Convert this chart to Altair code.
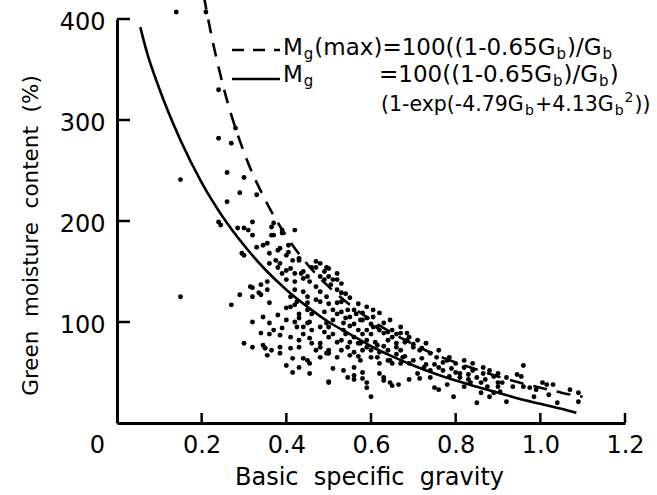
import altair as alt
import pandas as pd

# ---- values: (basic specific gravity, green moisture content %) ----
pts_sparse = [(0.14, 407), (0.21, 407), (0.15, 241), (0.15, 125), (0.24, 330), (0.28, 292),
              (0.24, 282), (0.27, 277), (0.26, 248), (0.30, 243), (0.29, 228), (0.26, 219),
              (0.33, 226), (0.24, 199), (0.32, 199), (0.30, 193), (0.31, 191), (0.37, 198),
              (0.39, 191), (0.42, 191), (0.245, 196), (0.285, 193), (0.365, 194), (0.32, 186),
              (0.365, 186), (0.39, 188)]
pts_band_150 = [(0.33, 174), (0.355, 178), (0.37, 186), (0.345, 176), (0.36, 168), (0.295, 168),
                (0.385, 173), (0.405, 176), (0.43, 163), (0.385, 158), (0.40, 151), (0.42, 148),
                (0.36, 158), (0.46, 154), (0.48, 158), (0.50, 153), (0.52, 148), (0.38, 171),
                (0.405, 169), (0.40, 166), (0.30, 166), (0.375, 161), (0.415, 161), (0.43, 161),
                (0.38, 154), (0.41, 153), (0.435, 148), (0.47, 154), (0.495, 154), (0.39, 148),
                (0.40, 142), (0.42, 140), (0.44, 143), (0.455, 140), (0.49, 142), (0.505, 137)]
pts_band_120 = [(0.315, 135), (0.34, 137), (0.355, 140), (0.29, 127), (0.27, 117), (0.335, 129),
                (0.32, 134), (0.355, 132), (0.32, 125), (0.34, 127), (0.36, 119), (0.41, 115),
                (0.42, 117), (0.45, 119), (0.47, 122), (0.48, 130), (0.495, 125), (0.52, 132),
                (0.53, 120), (0.55, 124), (0.32, 100), (0.345, 105), (0.38, 107), (0.40, 114),
                (0.425, 120), (0.45, 125), (0.51, 142), (0.53, 129), (0.52, 119), (0.545, 112),
                (0.47, 135), (0.48, 120), (0.49, 110), (0.50, 118), (0.51, 112), (0.52, 108),
                (0.53, 110), (0.54, 104), (0.46, 108), (0.43, 108), (0.41, 125), (0.42, 132),
                (0.44, 130), (0.45, 112)]
pts_band_95 = [(0.34, 89), (0.37, 92), (0.39, 94), (0.425, 95), (0.45, 99), (0.36, 99), (0.40, 102),
               (0.44, 95), (0.455, 100), (0.48, 95), (0.495, 99), (0.51, 102), (0.535, 99),
               (0.55, 105), (0.575, 102), (0.59, 92), (0.615, 95), (0.63, 89), (0.65, 85),
               (0.565, 108), (0.58, 102), (0.605, 95), (0.59, 115), (0.605, 112), (0.62, 109),
               (0.645, 102), (0.67, 95), (0.685, 89), (0.58, 109), (0.605, 105), (0.63, 99),
               (0.65, 92), (0.67, 89), (0.69, 85), (0.535, 92), (0.56, 85), (0.55, 96), (0.56, 98),
               (0.57, 92), (0.58, 88), (0.60, 88), (0.62, 92), (0.64, 90), (0.66, 88), (0.46, 92),
               (0.44, 88), (0.42, 100), (0.49, 90), (0.50, 95), (0.51, 88), (0.54, 88), (0.59, 104),
               (0.60, 98), (0.43, 104)]
pts_band_70 = [(0.30, 79), (0.32, 75), (0.345, 77), (0.365, 72), (0.385, 75), (0.41, 74), (0.43, 75),
               (0.46, 79), (0.48, 75), (0.415, 64), (0.45, 62), (0.48, 65), (0.50, 69), (0.36, 88),
               (0.385, 87), (0.41, 85), (0.43, 82), (0.455, 84), (0.48, 79), (0.50, 85), (0.53, 82),
               (0.545, 75), (0.57, 79), (0.59, 75), (0.615, 77), (0.64, 72), (0.66, 75), (0.35, 74),
               (0.355, 67), (0.385, 69), (0.44, 64), (0.47, 72), (0.495, 69), (0.52, 65), (0.55, 67),
               (0.575, 62), (0.60, 65), (0.62, 59), (0.645, 62), (0.67, 59), (0.66, 79), (0.685, 82),
               (0.70, 75), (0.715, 72), (0.74, 69), (0.755, 65), (0.78, 62), (0.80, 59), (0.50, 72),
               (0.575, 79), (0.60, 72), (0.615, 65), (0.64, 62), (0.65, 59), (0.675, 65), (0.69, 59),
               (0.71, 82), (0.73, 79), (0.76, 72), (0.785, 65), (0.82, 62), (0.52, 80), (0.53, 72),
               (0.55, 80), (0.56, 70), (0.57, 66), (0.58, 72), (0.59, 82), (0.61, 80), (0.62, 70),
               (0.63, 76), (0.64, 82), (0.66, 68), (0.67, 72), (0.68, 66), (0.70, 62), (0.72, 64),
               (0.68, 80), (0.70, 78), (0.72, 74)]
pts_band_40 = [(0.40, 57), (0.43, 55), (0.455, 59), (0.51, 54), (0.535, 52), (0.56, 55), (0.58, 50),
               (0.415, 50), (0.455, 49), (0.50, 41), (0.545, 45), (0.56, 43), (0.59, 40), (0.63, 45),
               (0.645, 40), (0.665, 38), (0.60, 26), (0.50, 40), (0.56, 47), (0.58, 44), (0.59, 35),
               (0.62, 49), (0.63, 42), (0.65, 37), (0.69, 43), (0.71, 49), (0.715, 44), (0.74, 45),
               (0.75, 35), (0.76, 33), (0.78, 38), (0.795, 26), (0.82, 36), (0.83, 43), (0.85, 20),
               (0.86, 30), (0.88, 26), (0.725, 55), (0.74, 52), (0.77, 52), (0.785, 46), (0.81, 49),
               (0.835, 40), (0.86, 40), (0.875, 36), (0.90, 40), (0.73, 58), (0.75, 58), (0.76, 55),
               (0.77, 60), (0.79, 54), (0.80, 50), (0.81, 45), (0.83, 48), (0.85, 45), (0.87, 43)]
pts_upper_edge = [(0.82, 55), (0.84, 52), (0.865, 49), (0.89, 46), (0.84, 59), (0.865, 55),
                  (0.48, 145), (0.50, 145), (0.53, 138), (0.54, 128), (0.56, 112), (0.57, 118),
                  (0.44, 150), (0.45, 145), (0.47, 160), (0.49, 150), (0.52, 142)]
pts_right_end = [(0.96, 57), (0.88, 52), (0.90, 49), (0.92, 45), (0.945, 48), (0.955, 46),
                 (0.91, 40), (0.90, 36), (0.935, 36), (0.96, 36), (0.975, 35), (0.99, 33),
                 (1.005, 40), (1.015, 38), (1.03, 38), (1.02, 28), (0.985, 26), (0.92, 21),
                 (1.04, 20), (1.07, 33), (1.09, 30), (1.09, 21), (0.89, 30), (0.905, 31)]

# fitted curves
solid_gb = [0.055, 0.07, 0.1, 0.15, 0.2, 0.25, 0.3, 0.35, 0.4, 0.45, 0.5, 0.55, 0.6, 0.65,
            0.7, 0.75, 0.8, 0.85, 0.9, 0.95, 1.0, 1.05, 1.085]
solid_mc = [392, 368, 331, 280, 238, 204, 176, 152, 132, 115, 100, 88, 76, 66,
            57, 49, 42, 36, 30, 24, 19, 14, 10]
dash_gb = [0.205, 0.22, 0.25, 0.3, 0.35, 0.4, 0.45, 0.5, 0.55, 0.6, 0.65, 0.7, 0.75, 0.8,
           0.85, 0.9, 0.95, 1.0, 1.05, 1.1]
dash_mc = [423, 390, 335, 268, 221, 185, 157, 135, 117, 102, 89, 78, 68, 60,
           53, 46, 40, 35, 30, 26]

x_ticks = [0, 0.2, 0.4, 0.6, 0.8, 1.0, 1.2]
y_ticks = [100, 200, 300, 400]

x_title = "Basic\u00a0 specific\u00a0 gravity"
y_title = "Green\u00a0 moisture\u00a0 content\u00a0 (%)"

legend_line1 = [("M", "n"), ("g", "sub"), ("(max)=100((1-0.65G", "n"), ("b", "sub"), (")/G", "n"), ("b", "sub")]
legend_line2a = [("M", "n"), ("g", "sub")]
legend_line2b = [("=100((1-0.65G", "n"), ("b", "sub"), (")/G", "n"), ("b", "sub"), (")", "n")]
legend_line3 = [("(1-exp(-4.79G", "n"), ("b", "sub"), ("+4.13G", "n"), ("b", "sub"), ("2", "sup"), ("))", "n")]

# ---------------------------------------------------------------------------
FONT = "DejaVu Sans"
W, H = 508, 404

# DejaVu Sans advance widths (em)
ADV = {' ': 0.318, '(': 0.390, ')': 0.390, '-': 0.361, '.': 0.318, '/': 0.337, '=': 0.838,
       '+': 0.838, 'G': 0.775, 'M': 0.863, 'a': 0.613, 'b': 0.635, 'e': 0.615, 'g': 0.635,
       'm': 0.974, 'p': 0.635, 'x': 0.592}
for d in "0123456789":
    ADV[d] = 0.636

all_pts = (pts_sparse + pts_band_150 + pts_band_120 + pts_band_95 + pts_band_70 +
           pts_band_40 + pts_upper_edge + pts_right_end)
pts = pd.DataFrame(all_pts, columns=["gb", "mc"])

xscale = alt.Scale(domain=[0, 1.2], nice=False, zero=False)
yscale = alt.Scale(domain=[0, 400], nice=False, zero=False)

xaxis = alt.Axis(values=x_ticks, title=x_title, ticks=False, labelFlush=False,
                 labelExpr="datum.value == 0 ? '0' : format(datum.value, '.1f')",
                 labelOffset={"condition": {"test": "datum.value == 0", "value": -20}, "value": 0},
                 labelPadding=10, titleX=252, titleY=61, titleAlign="center",
                 titleBaseline="alphabetic")
yaxis = alt.Axis(values=y_ticks, format="d", title=y_title, ticks=False,
                 labelPadding=12, labelOffset=3, titleFontSize=21.5,
                 titleX=-80, titleY=216, titleAlign="center",
                 titleBaseline="alphabetic", titleAngle=270)


def xenc(field):
    return alt.X(field, type="quantitative", scale=xscale, axis=xaxis)


def yenc(field):
    return alt.Y(field, type="quantitative", scale=yscale, axis=yaxis)


points = alt.Chart(pts).mark_circle(size=24, color="black", opacity=1, clip=False).encode(
    x=xenc("gb"), y=yenc("mc"))

solid = alt.Chart(pd.DataFrame({"gb": solid_gb, "mc": solid_mc})).mark_line(
    color="black", strokeWidth=2.6, clip=False, interpolate="monotone").encode(
    x=xenc("gb"), y=yenc("mc"))

dashed = alt.Chart(pd.DataFrame({"gb": dash_gb, "mc": dash_mc})).mark_line(
    color="black", strokeWidth=2.6, strokeDash=[14, 10], clip=False, interpolate="monotone").encode(
    x=xenc("gb"), y=yenc("mc"))

ytick = alt.Chart(pd.DataFrame({"mc": y_ticks})).mark_rule(color="black", strokeWidth=2.5).encode(
    y=yenc("mc"), x=alt.value(0), x2=alt.value(13))
xtick = alt.Chart(pd.DataFrame({"gb": x_ticks[1:]})).mark_rule(color="black", strokeWidth=2.5).encode(
    x=xenc("gb"), y=alt.value(H), y2=alt.value(H - 10))

one = pd.DataFrame({"k": [0]})
leg_dash = alt.Chart(one).mark_rule(color="black", strokeWidth=2.5, strokeDash=[12, 9]).encode(
    x=alt.value(115), x2=alt.value(163), y=alt.value(31))
leg_solid = alt.Chart(one).mark_rule(color="black", strokeWidth=2.5).encode(
    x=alt.value(115), x2=alt.value(163), y=alt.value(60))


def segments(segs, x0, y0, main, gap=1.0):
    small = round(main * 0.66)
    out = []
    x = x0
    for txt, kind in segs:
        size = main if kind == "n" else small
        dy = 0 if kind == "n" else (4 if kind == "sub" else -9)
        out.append(alt.Chart(one).mark_text(align="left", baseline="alphabetic", font=FONT,
                                            fontSize=size, color="black").encode(
            x=alt.value(x), y=alt.value(y0 + dy), text=alt.value(txt)))
        x += sum(ADV.get(c, 0.6) for c in txt) * size + gap
    return out


legend_text = (segments(legend_line1, 166, 36, 23) + segments(legend_line2a, 166, 63, 23) +
               segments(legend_line2b, 262, 63, 23) + segments(legend_line3, 264, 92, 20.5, 1.0))

chart = alt.layer(points, solid, dashed, ytick, xtick, leg_dash, leg_solid, *legend_text).properties(
    width=W, height=H,
    autosize=alt.AutoSizeParams(type="none"),
    padding={"left": 117, "top": 19, "right": 32, "bottom": 72},
    background="white",
).configure_view(stroke=None).configure_axis(
    grid=False, domainColor="black", domainWidth=3,
    labelFont=FONT, labelFontSize=24, labelColor="black",
    titleFont=FONT, titleFontSize=24, titleColor="black", titleFontWeight="normal",
)

chart.save("out.html", embed_options={"renderer": "svg", "actions": False})
